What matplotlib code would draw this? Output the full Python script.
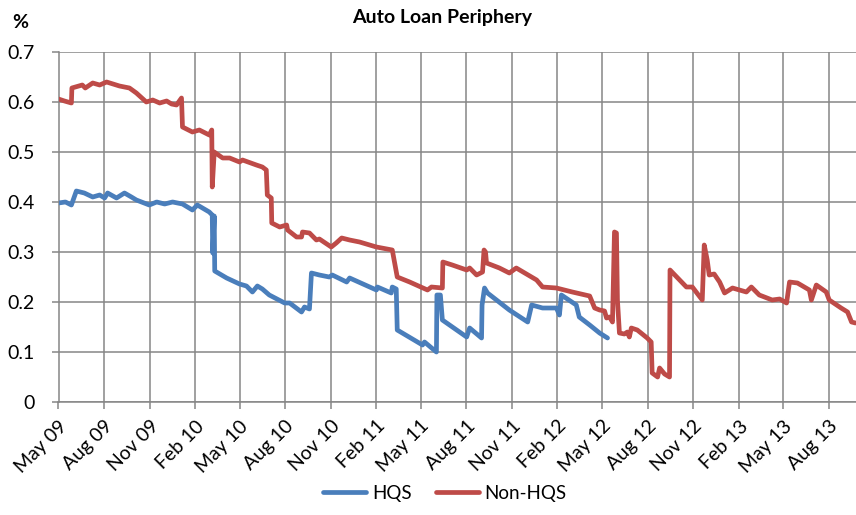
import matplotlib
matplotlib.use("Agg")
import matplotlib.pyplot as plt
import pandas as pd

plt.rcParams['font.family'] = ['Lato', 'DejaVu Sans']

# HQS series
hqsDates = [
    "2009-05-01", "2009-05-15", "2009-05-27", "2009-06-06", "2009-06-22", "2009-07-09",
    "2009-07-23", "2009-08-02", "2009-08-08", "2009-08-26", "2009-09-11", "2009-09-25",
    "2009-10-05", "2009-10-31", "2009-11-15", "2009-12-01", "2009-12-17", "2010-01-06",
    "2010-01-26", "2010-02-05", "2010-03-01", "2010-03-07", "2010-03-08", "2010-03-11",
    "2010-03-12", "2010-04-05", "2010-05-01", "2010-05-15", "2010-05-27", "2010-06-06",
    "2010-06-16", "2010-06-30", "2010-07-31", "2010-08-10", "2010-09-03", "2010-09-09",
    "2010-09-19", "2010-09-23", "2010-10-09", "2010-10-29", "2010-11-04", "2010-12-03",
    "2010-12-09", "2011-02-01", "2011-02-03", "2011-03-03", "2011-03-05", "2011-03-13",
    "2011-03-15", "2011-05-05", "2011-05-09", "2011-06-02", "2011-06-03", "2011-06-10",
    "2011-06-14", "2011-08-02", "2011-08-08", "2011-09-01", "2011-09-02", "2011-09-07",
    "2011-09-13", "2011-10-27", "2011-12-03", "2011-12-11", "2012-01-02", "2012-01-30",
    "2012-02-05", "2012-02-09", "2012-03-10", "2012-03-16", "2012-04-06", "2012-04-26",
    "2012-05-12",
]
hqsValues = [
    0.398, 0.400, 0.394, 0.422, 0.418, 0.410,
    0.414, 0.408, 0.418, 0.408, 0.418, 0.410,
    0.404, 0.394, 0.400, 0.396, 0.400, 0.396,
    0.384, 0.394, 0.380, 0.374, 0.298, 0.372,
    0.262, 0.248, 0.236, 0.232, 0.220, 0.232,
    0.226, 0.214, 0.198, 0.198, 0.180, 0.190,
    0.186, 0.258, 0.254, 0.250, 0.254, 0.240,
    0.248, 0.224, 0.230, 0.218, 0.230, 0.226,
    0.144, 0.114, 0.120, 0.100, 0.214, 0.214,
    0.164, 0.130, 0.148, 0.128, 0.194, 0.228,
    0.218, 0.184, 0.160, 0.194, 0.188, 0.188,
    0.174, 0.214, 0.194, 0.170, 0.154, 0.138,
    0.128,
]

# Non-HQS series
nonHqsDates = [
    "2009-05-01", "2009-05-13", "2009-05-27", "2009-05-28", "2009-06-18", "2009-06-24",
    "2009-07-09", "2009-07-23", "2009-08-06", "2009-09-01", "2009-09-21", "2009-10-05",
    "2009-10-25", "2009-11-07", "2009-11-21", "2009-12-05", "2009-12-15", "2009-12-25",
    "2010-01-04", "2010-01-06", "2010-01-26", "2010-02-09", "2010-03-01", "2010-03-06",
    "2010-03-07", "2010-03-11", "2010-03-28", "2010-04-11", "2010-05-01", "2010-05-07",
    "2010-06-04", "2010-06-16", "2010-06-24", "2010-06-26", "2010-07-04", "2010-07-05",
    "2010-07-21", "2010-08-04", "2010-08-06", "2010-08-24", "2010-09-03", "2010-09-05",
    "2010-09-19", "2010-10-03", "2010-10-09", "2010-11-02", "2010-11-12", "2010-11-23",
    "2010-12-09", "2010-12-29", "2011-02-01", "2011-03-05", "2011-03-15", "2011-04-09",
    "2011-05-15", "2011-05-23", "2011-06-14", "2011-06-15", "2011-07-04", "2011-08-02",
    "2011-08-08", "2011-08-22", "2011-09-03", "2011-09-06", "2011-09-09", "2011-09-11",
    "2011-10-07", "2011-10-27", "2011-11-10", "2011-12-21", "2012-01-02", "2012-01-30",
    "2012-03-02", "2012-04-06", "2012-04-16", "2012-04-26", "2012-05-06", "2012-05-10",
    "2012-05-16", "2012-05-22", "2012-05-26", "2012-05-30", "2012-06-01", "2012-06-05",
    "2012-06-15", "2012-06-21", "2012-06-25", "2012-06-29", "2012-07-11", "2012-07-31",
    "2012-08-08", "2012-08-10", "2012-08-21", "2012-08-25", "2012-09-04", "2012-09-14",
    "2012-09-15", "2012-10-18", "2012-10-30", "2012-11-19", "2012-11-23", "2012-11-29",
    "2012-12-03", "2012-12-13", "2012-12-24", "2013-01-03", "2013-01-19", "2013-02-16",
    "2013-02-26", "2013-03-14", "2013-04-09", "2013-04-24", "2013-05-08", "2013-05-14",
    "2013-05-30", "2013-06-23", "2013-06-27", "2013-07-07", "2013-07-27", "2013-08-02",
    "2013-08-26", "2013-09-08", "2013-09-16", "2013-09-24",
]
nonHqsValues = [
    0.606, 0.602, 0.598, 0.628, 0.634, 0.628,
    0.638, 0.634, 0.640, 0.632, 0.628, 0.618,
    0.600, 0.604, 0.598, 0.602, 0.596, 0.594,
    0.608, 0.550, 0.540, 0.544, 0.534, 0.544,
    0.430, 0.500, 0.488, 0.488, 0.480, 0.484,
    0.474, 0.470, 0.464, 0.414, 0.408, 0.358,
    0.350, 0.354, 0.344, 0.330, 0.330, 0.340,
    0.338, 0.324, 0.326, 0.310, 0.318, 0.328,
    0.324, 0.320, 0.310, 0.304, 0.250, 0.240,
    0.224, 0.230, 0.228, 0.280, 0.274, 0.264,
    0.268, 0.254, 0.260, 0.304, 0.300, 0.278,
    0.268, 0.258, 0.268, 0.244, 0.230, 0.228,
    0.220, 0.212, 0.188, 0.184, 0.182, 0.168,
    0.170, 0.160, 0.340, 0.338, 0.204, 0.138,
    0.136, 0.140, 0.130, 0.148, 0.144, 0.128,
    0.120, 0.058, 0.050, 0.068, 0.056, 0.050,
    0.264, 0.230, 0.230, 0.204, 0.314, 0.284,
    0.254, 0.256, 0.240, 0.218, 0.228, 0.220,
    0.230, 0.214, 0.204, 0.206, 0.198, 0.240,
    0.238, 0.224, 0.204, 0.234, 0.220, 0.204,
    0.188, 0.180, 0.160, 0.158,
]

tickDates = pd.date_range("2009-05-01", "2013-08-01", freq="3MS")
tickLabels = ["May 09", "Aug 09", "Nov 09", "Feb 10", "May 10", "Aug 10", "Nov 10",
              "Feb 11", "May 11", "Aug 11", "Nov 11", "Feb 12", "May 12", "Aug 12",
              "Nov 12", "Feb 13", "May 13", "Aug 13"]
yTicks = [0, 0.1, 0.2, 0.3, 0.4, 0.5, 0.6, 0.7]
yTickLabels = ["0", "0.1", "0.2", "0.3", "0.4", "0.5", "0.6", "0.7"]

gridColor = "#868686"
blue = "#4A7EBB"
red = "#BE4B48"

fig = plt.figure(figsize=(8.56, 5.15), dpi=100)
ax = fig.add_axes([58.5 / 856, 1 - 402 / 515, (856 - 58.5) / 856, 350 / 515])

ax.plot(pd.to_datetime(hqsDates), hqsValues, color=blue, linewidth=3.4, label="HQS",
        solid_joinstyle="round", solid_capstyle="round", zorder=3)
ax.plot(pd.to_datetime(nonHqsDates), nonHqsValues, color=red, linewidth=3.4, label="Non-HQS",
        solid_joinstyle="round", solid_capstyle="round", zorder=3)

ax.set_xlim(pd.Timestamp("2009-05-01"), pd.Timestamp("2013-09-25"))
ax.set_ylim(0, 0.7)
ax.set_xticks(tickDates)
ax.set_xticklabels(tickLabels, rotation=45, ha="right", rotation_mode="anchor", fontsize=14)
ax.set_yticks(yTicks)
ax.set_yticklabels(yTickLabels, fontsize=14)

for side in ["top", "right"]:
    ax.spines[side].set_visible(False)
for side in ["left", "bottom"]:
    ax.spines[side].set_color(gridColor)
    ax.spines[side].set_linewidth(1.1)
ax.tick_params(axis="both", direction="out", length=5, color=gridColor, width=1.1)
ax.tick_params(axis="y", pad=12)
ax.tick_params(axis="x", pad=6)

# grid lines drawn under the series
ax.xaxis.grid(True, color=gridColor, linewidth=1.1, zorder=0)
ax.yaxis.grid(True, color=gridColor, linewidth=1.1, zorder=0)

fig.text(442 / 856, 1 - 17 / 515, "Auto Loan Periphery", ha="center", va="center",
         fontsize=14, fontweight="bold")
fig.text(20 / 856, 1 - 22 / 515, "%", ha="center", va="center", fontsize=14, fontweight="bold")

fig.legend(loc="center", bbox_to_anchor=(445 / 856, 1 - 493 / 515), ncol=2, frameon=False,
           fontsize=13.5, handlelength=2.3, handletextpad=0.3, columnspacing=1.3)

fig.savefig("out.png", dpi=100)
